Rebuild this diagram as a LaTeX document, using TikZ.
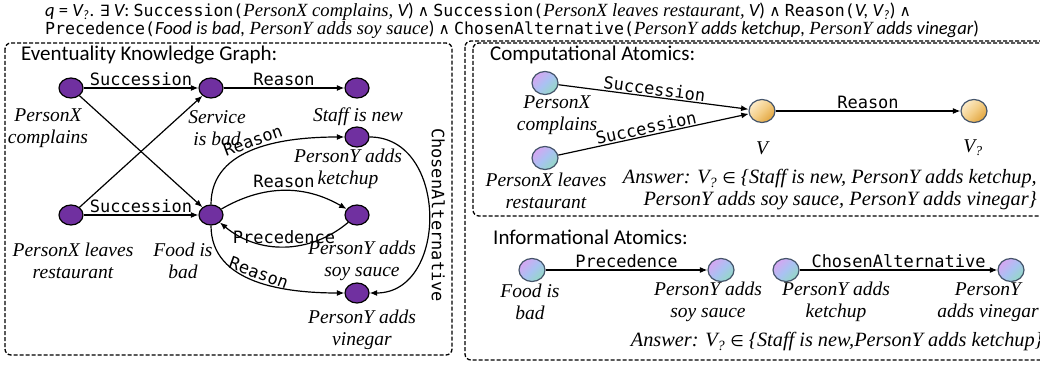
\documentclass[tikz,border=0pt]{standalone}
\usepackage{fontspec}
\setmainfont{Carlito}
\newfontfamily\relfont{DejaVu Sans Mono}
\newfontfamily\evfont{Liberation Serif}
\newfontfamily\opfont{DejaVu Sans}
\usepackage{xcolor}
\usepackage{tikz}
\usetikzlibrary{shapes.geometric, arrows.meta, positioning}

\definecolor{evpurple}{HTML}{7030A0}
\definecolor{atomline}{HTML}{44546A}
\definecolor{atomtl}{HTML}{D6A6F2}
\definecolor{atommid}{HTML}{A9C2F2}
\definecolor{atombr}{HTML}{93D9C4}
\definecolor{vartl}{HTML}{FCEBC8}
\definecolor{varmid}{HTML}{F3CD85}
\definecolor{varbr}{HTML}{E2A53E}

\newcommand{\relword}[1]{{\relfont\fontsize{16.6}{18}\selectfont #1}}
\newcommand{\evword}[1]{{\evfont\itshape #1}}
\newcommand{\opword}[1]{{\opfont\upshape\fontsize{15.5}{18}\selectfont #1}}

\begin{document}
\begin{tikzpicture}[
    x=1pt, y=1pt,
    event/.style={ellipse, draw=black, fill=evpurple, line width=1.2pt, minimum width=24pt, minimum height=20pt, inner sep=0pt},
    atombase/.style={ellipse, draw=atomline, line width=1.2pt, minimum width=26pt, minimum height=23pt, inner sep=0pt},
    atom/.style={atombase, top color=atomtl, bottom color=atombr, middle color=atommid, shading angle=45},
    varnode/.style={atombase, top color=vartl, bottom color=varbr, middle color=varmid, shading angle=45},
    txt/.style={font=\evfont\itshape\fontsize{19.5}{22}\selectfont, align=center, inner sep=0pt},
    answer/.style={txt, font=\evfont\itshape\fontsize{20.3}{22}\selectfont},
    rel/.style={font=\relfont\fontsize{17}{19}\selectfont, inner sep=2pt},
    title/.style={font=\fontsize{21}{24}\selectfont, anchor=west, inner sep=0pt},
    formula/.style={font=\fontsize{18.6}{20}\selectfont, anchor=west, inner sep=0pt},
    panel/.style={draw, dash pattern=on 4pt off 2pt, rounded corners=6pt, line width=1.3pt},
    arrow/.style={-{Latex[length=7.5pt,width=6pt]}, line width=1.2pt}
]
\useasboundingbox (0,0) rectangle (1040,364);
\clip (0,0) rectangle (1040,364);

% query
\node[formula] (qline) at (45,352) {\itshape q \upshape= \itshape V\textsubscript{?}\upshape. \opword{∃} \itshape V\upshape: \relword{Succession(}\evword{PersonX complains,} \itshape V\upshape) \opword{∧} \relword{Succession(}\evword{PersonX leaves restaurant,} \itshape V\upshape) \opword{∧} \relword{Reason(}\itshape V, V\textsubscript{?}\upshape) \opword{∧}};
\node[formula] (qline2) at (45,334) {\relword{Precedence(}\textit{Food is bad,} \evword{PersonY adds soy sauce}) \opword{∧} \relword{ChosenAlternative(}\evword{PersonY} \textit{adds ketchup,} \evword{PersonY} \textit{adds vinegar})};

% frames
\draw[panel] (5,321) rectangle (452,9);
\draw[panel] (465,323) rectangle (1060,4);
\draw[panel] (473,321) rectangle (1055,148);

% eventuality knowledge graph
\node[title] (kgtitle) at (21,309) {Eventuality Knowledge Graph:};

\node[event] (complains) at (71,276) {};
\node[event] (service) at (211,276) {};
\node[event] (staff) at (357,276) {};
\node[event] (ketchup) at (357,227) {};
\node[event] (leaves) at (71,149) {};
\node[event] (food) at (211,149) {};
\node[event] (soy) at (357,149) {};
\node[event] (vinegar) at (357,71) {};

\node[txt] (complainslbl) at (48,236) {PersonX\\complains};
\node[txt] (servicelbl) at (217,236) {Service\\is bad};
\node[txt] (stafflbl) at (358,247) {Staff is new};
\node[txt] (ketchuplbl) at (348,195) {PersonY adds\\ketchup};
\node[txt] (leaveslbl) at (73,103) {PersonX leaves\\restaurant};
\node[txt] (foodlbl) at (183,103) {Food is\\bad};
\node[txt] (soylbl) at (362,103) {PersonY adds\\soy sauce};
\node[txt] (vinegarlbl) at (362,34) {PersonY adds\\vinegar};

\draw[arrow] (complains) -- node[rel, above] {Succession} (service);
\draw[arrow] (service) -- node[rel, above] {Reason} (staff);
\draw[arrow] (complains) -- (food);
\draw[arrow] (leaves) -- (service);
\draw[arrow] (leaves) -- node[rel, above] {Succession} (food);
\draw[arrow] (food) to[out=90, in=180] node[rel, sloped, above] {Reason} (ketchup);
\draw[arrow] (food) to[bend left=30] node[rel, above] {Reason} (soy);
\draw[arrow] (soy) to[bend left=40] node[rel, above] {Precedence} (food);
\draw[arrow] (food) to[out=-90, in=180] node[rel, sloped, above] {Reason} (vinegar);
\draw[arrow] (ketchup.east) to[out=0, in=0, looseness=1.3] node[rel, pos=0.5, rotate=-90, anchor=south] {ChosenAlternative} (vinegar.east);

% computational atomics
\node[title] (comptitle) at (490,309) {Computational Atomics:};

\node[atom] (ccomplains) at (545,281) {};
\node[atom] (cleaves) at (545,206) {};
\node[varnode] (v) at (762,253) {};
\node[varnode] (vq) at (974,253) {};

\node[txt] (ccomplainslbl) at (557,249) {PersonX\\complains};
\node[txt] (cleaveslbl) at (546,173) {PersonX leaves\\restaurant};
\node[txt] (vlbl) at (762,216) {V};
\node[txt] (vqlbl) at (973,216) {V\textsubscript{?}};
\node[answer, anchor=east, align=right] (canswer) at (1037,174) {Answer: V\textsubscript{?} \opword{∈} \{Staff is new, PersonY adds ketchup,\\PersonY adds soy sauce, PersonY adds vinegar\}};

\draw[arrow] (ccomplains) -- node[rel, sloped, above, inner sep=1pt] {Succession} (v);
\draw[arrow] (cleaves) -- node[rel, sloped, above, inner sep=1pt, pos=0.47] {Succession} (v);
\draw[arrow] (v) -- node[rel, above] {Reason} (vq);

% informational atomics
\node[title] (infotitle) at (493,127) {Informational Atomics:};

\node[atom] (ifood) at (532,94) {};
\node[atom] (isoy) at (721,94) {};
\node[atom] (iketchup) at (786,94) {};
\node[atom] (ivinegar) at (1011,94) {};

\node[txt] (ifoodlbl) at (530,62) {Food is\\bad};
\node[txt] (isoylbl) at (708,62) {PersonY adds\\soy sauce};
\node[txt] (iketchuplbl) at (836,62) {PersonY adds\\ketchup};
\node[txt] (ivinegarlbl) at (988,62) {PersonY\\adds vinegar};
\node[answer, anchor=east] (ianswer) at (1043,22) {Answer: V\textsubscript{?} \opword{∈} \{Staff is new,PersonY adds ketchup\}};

\draw[arrow] (ifood) -- node[rel, above] {Precedence} (isoy);
\draw[arrow] (iketchup) -- node[rel, above] {ChosenAlternative} (ivinegar);

\end{tikzpicture}
\end{document}
